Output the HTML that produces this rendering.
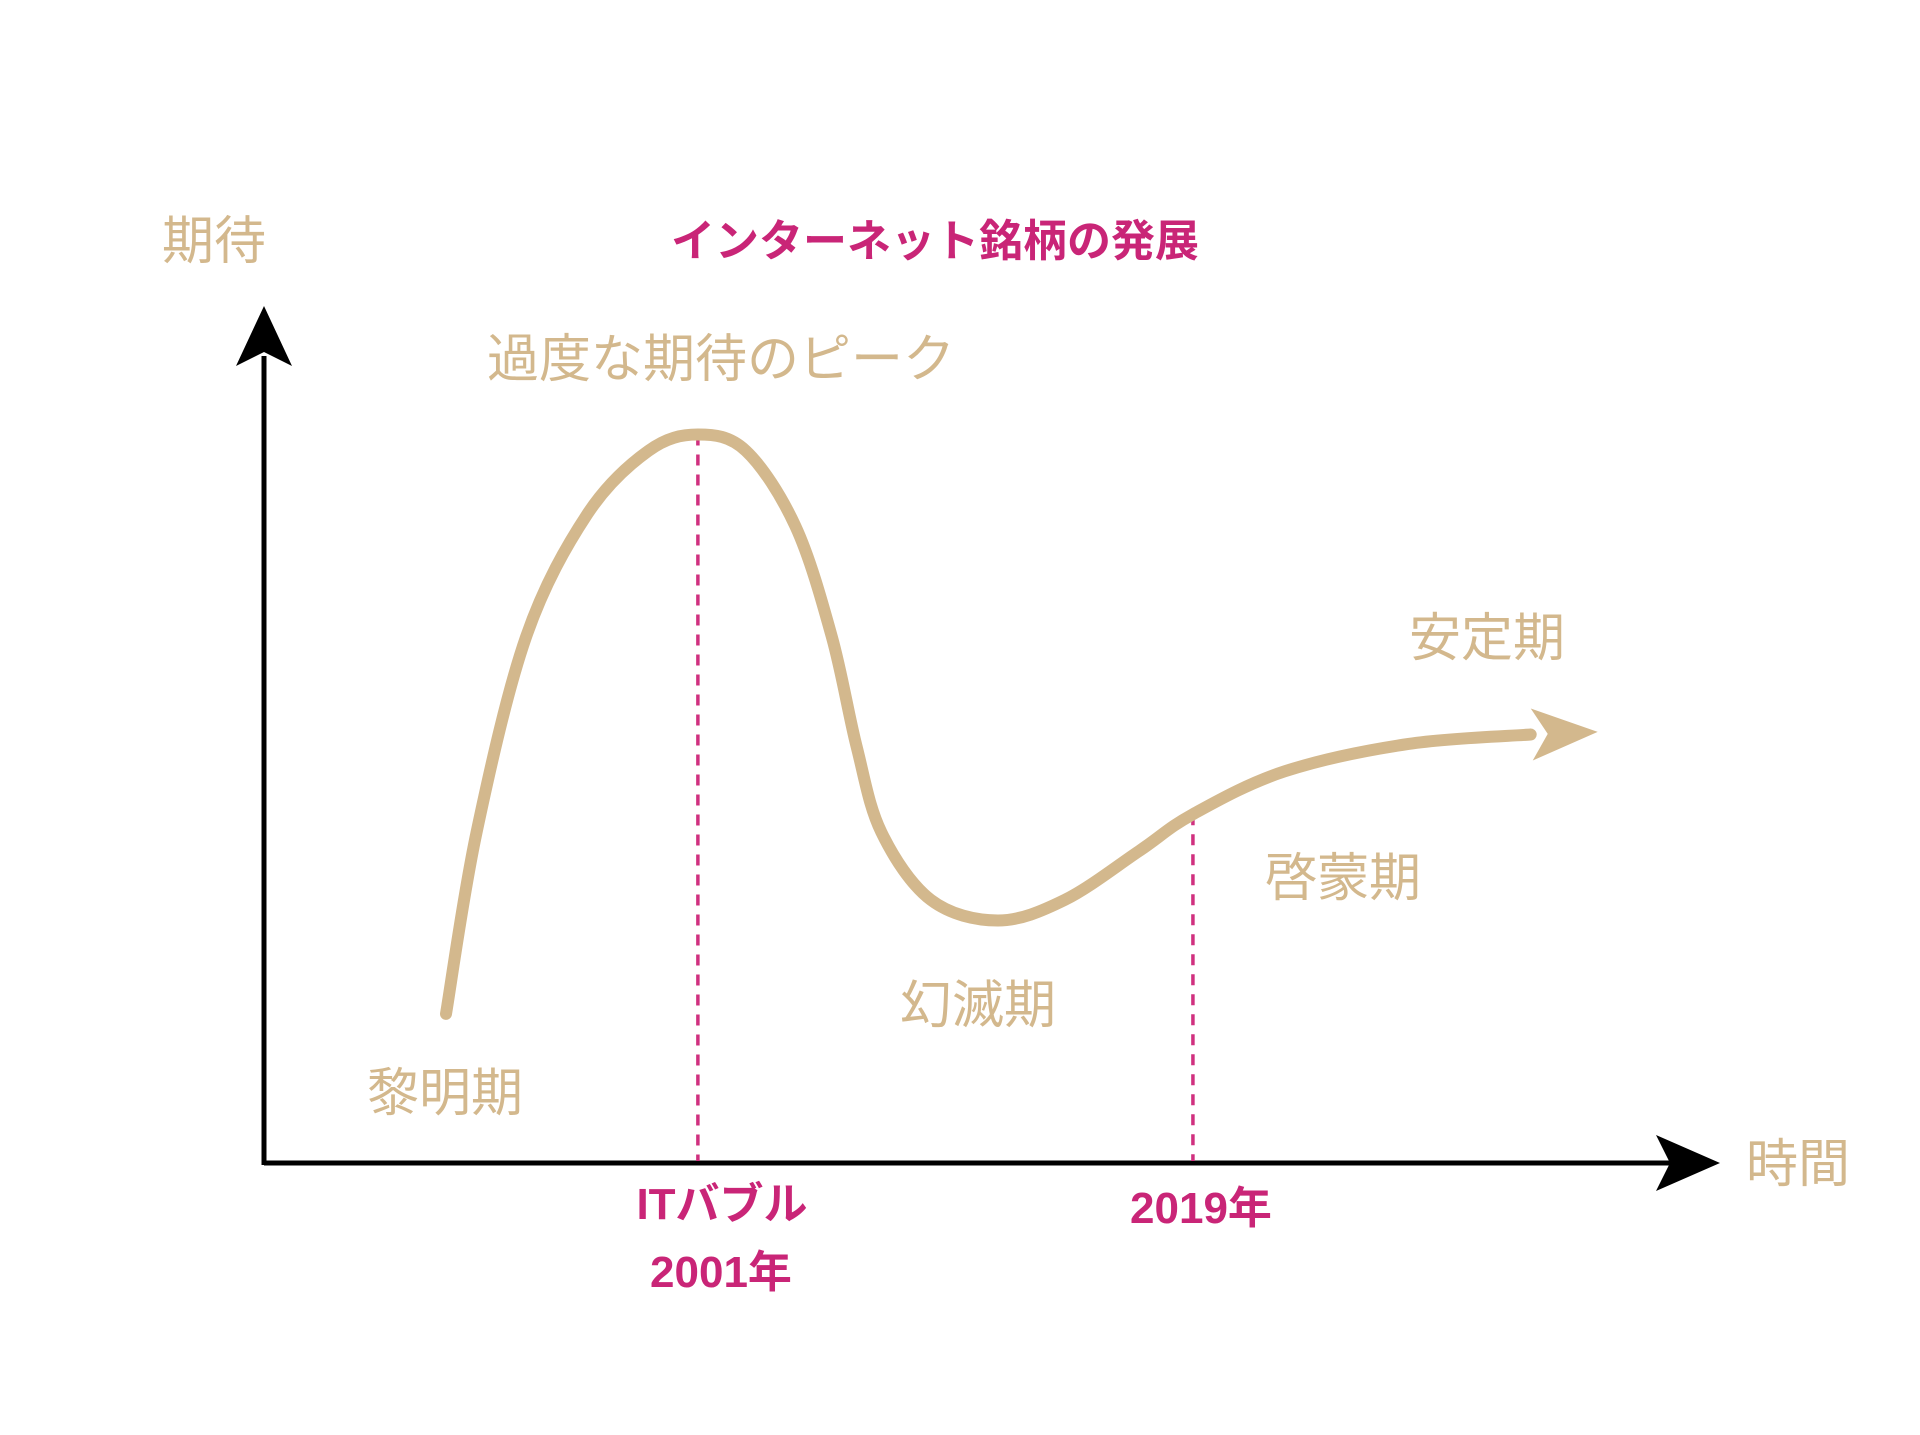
<!DOCTYPE html>
<html><head><meta charset="utf-8"><style>
html,body{margin:0;padding:0;background:#fff;}
svg{display:block;}
.lbl{font-family:"Liberation Sans","Noto Sans CJK JP",sans-serif;fill:#d3b88d;font-size:52px;}
.mg{font-family:"Liberation Sans","Noto Sans CJK JP",sans-serif;fill:#c92577;font-weight:bold;}
</style></head><body>
<svg id="chart" width="1920" height="1435" viewBox="0 0 1920 1435" xmlns="http://www.w3.org/2000/svg">
<text class="mg" x="935" y="256" font-size="44" text-anchor="middle">インターネット銘柄の発展</text>
<text class="lbl" x="214" y="259" text-anchor="middle">期待</text>
<text class="lbl" x="1798" y="1182" text-anchor="middle">時間</text>
<text class="lbl" x="721" y="377" text-anchor="middle">過度な期待のピーク</text>
<text class="lbl" x="445" y="1111" text-anchor="middle">黎明期</text>
<text class="lbl" x="978" y="1023" text-anchor="middle">幻滅期</text>
<text class="lbl" x="1343" y="896" text-anchor="middle">啓蒙期</text>
<text class="lbl" x="1487" y="656" text-anchor="middle">安定期</text>
<text class="mg" x="722" y="1219" font-size="44" text-anchor="middle">ITバブル</text>
<text class="mg" x="721" y="1287" font-size="44" text-anchor="middle">2001年</text>
<text class="mg" x="1201" y="1223" font-size="44" text-anchor="middle">2019年</text>
<g id="marks"></g>
</svg>
<script>
const times=[12.5,14.6,18.0,22.2,26.4,29.8,33.1,36.5,39.0,40.7,42.4,45.8,50.4,55.0,60.1,63.8,70.1,78.6,87.0];
const expectation=[17.4,38.6,61.4,75.7,83.1,85.0,83.1,74.3,61.4,48.6,38.6,30.7,28.3,30.7,36.4,40.7,45.7,48.9,50.0];
const markerTimes=[29.8,63.8];
const markerValues=[85.0,40.7];
const arrowTip=[91.6,50.3];
const sx=t=>264+t*14.56;
const sy=e=>1163-e*8.57;
const NS="http://www.w3.org/2000/svg";
const g=document.getElementById('marks');
// axes
const xa=document.createElementNS(NS,'line');


xa.setAttribute('x1',sx(0));xa.setAttribute('y1',sy(0));xa.setAttribute('x2',sx(100)-50);xa.setAttribute('y2',sy(0));
xa.setAttribute('stroke','#000');xa.setAttribute('stroke-width','5');g.appendChild(xa);
const xh=document.createElementNS(NS,'polygon');


xh.setAttribute('points',`${sx(100)},${sy(0)} ${sx(100)-64},${sy(0)-28} ${sx(100)-50},${sy(0)} ${sx(100)-64},${sy(0)+28}`);
xh.setAttribute('fill','#000');g.appendChild(xh);
const ya=document.createElementNS(NS,'line');


ya.setAttribute('x1',sx(0));ya.setAttribute('y1',sy(0)+2);ya.setAttribute('x2',sx(0));ya.setAttribute('y2',sy(100)+50);
ya.setAttribute('stroke','#000');ya.setAttribute('stroke-width','5');g.appendChild(ya);
const yh=document.createElementNS(NS,'polygon');


yh.setAttribute('points',`${sx(0)},${sy(100)} ${sx(0)-28},${sy(100)+60} ${sx(0)},${sy(100)+46} ${sx(0)+28},${sy(100)+60}`);
yh.setAttribute('fill','#000');g.appendChild(yh);
// dashed markers
markerTimes.forEach((t,i)=>{
  const l=document.createElementNS(NS,'line');
  
  
  l.setAttribute('x1',sx(t));l.setAttribute('x2',sx(t));
  l.setAttribute('y1',sy(markerValues[i]));l.setAttribute('y2',sy(0)-2);
  l.setAttribute('stroke','#d0307f');l.setAttribute('stroke-width','3.5');l.setAttribute('stroke-dasharray','11 9');
  g.appendChild(l);
});
// curve (catmull-rom)
const P=times.map((t,i)=>[sx(t),sy(expectation[i])]);
let d=`M${P[0][0]},${P[0][1]}`;
for(let i=0;i<P.length-1;i++){
  const p0=P[i-1]||P[i],p1=P[i],p2=P[i+1],p3=P[i+2]||P[i+1];
  const c1=[p1[0]+(p2[0]-p0[0])/6,p1[1]+(p2[1]-p0[1])/6];
  const c2=[p2[0]-(p3[0]-p1[0])/6,p2[1]-(p3[1]-p1[1])/6];
  d+=` C${c1[0]},${c1[1]} ${c2[0]},${c2[1]} ${p2[0]},${p2[1]}`;
}
const c=document.createElementNS(NS,'path');


c.setAttribute('d',d);c.setAttribute('fill','none');c.setAttribute('stroke','#d3b88d');
c.setAttribute('stroke-width','12');c.setAttribute('stroke-linecap','round');
g.appendChild(c);
const tx=sx(arrowTip[0]),ty=sy(arrowTip[1]);
const last=P[P.length-1];
const ang=Math.atan2(ty-last[1],tx-last[0]);
const pt=(a,b)=>[tx+Math.cos(ang)*a-Math.sin(ang)*b,ty+Math.sin(ang)*a+Math.cos(ang)*b];
const a1=pt(-66,-26),a2=pt(-50,0),a3=pt(-66,26);
const ah=document.createElementNS(NS,'polygon');


ah.setAttribute('points',`${tx},${ty} ${a1} ${a2} ${a3}`);
ah.setAttribute('fill','#d3b88d');
g.appendChild(ah);
</script>
</body></html>
